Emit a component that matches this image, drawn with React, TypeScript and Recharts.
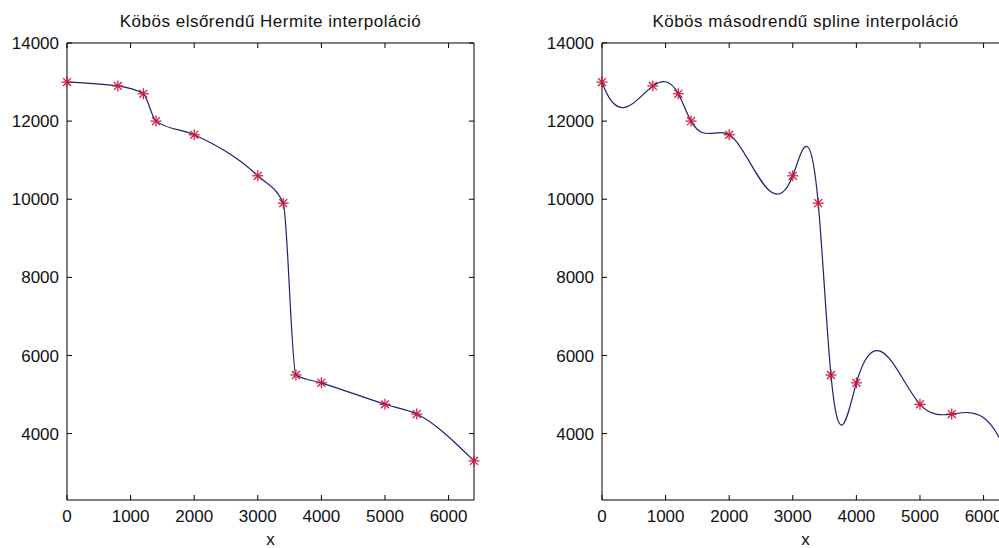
import { LineChart, Line, XAxis, YAxis } from 'recharts';

// measured samples (x position, value)
const xValues = [0, 800, 1200, 1400, 2000, 3000, 3400, 3600, 4000, 5000, 5500, 6400];
const yValues = [13000, 12900, 12700, 12000, 11650, 10600, 9900, 5500, 5300, 4750, 4500, 3300];

const xTicks = [0, 1000, 2000, 3000, 4000, 5000, 6000];
const yTicks = [4000, 6000, 8000, 10000, 12000, 14000];
const xDomain = [0, 6400];
const yDomain = [2300, 14000];

const titles = ['Köbös elsőrendű Hermite interpoláció', 'Köbös másodrendű spline interpoláció'];
const xLabel = 'x';

const points = xValues.map((x, i) => ({ x, y: yValues[i] }));

const FONT = '"Liberation Sans", Arial, sans-serif';
const FS = 17;
const TICK = 5;
const LINE_COLOR = '#1c2274';
const MARK_COLOR = '#c8143c';

// slopes of a not-a-knot cubic spline (same end conditions as MATLAB's spline)
function splineSlopes(x: number[], y: number[]) {
  const n = x.length;
  const h: number[] = [];
  const d: number[] = [];
  for (let k = 0; k < n - 1; k++) {
    h[k] = x[k + 1] - x[k];
    d[k] = (y[k + 1] - y[k]) / h[k];
  }
  const a = new Array(n).fill(0);
  const b = new Array(n).fill(0);
  const c = new Array(n).fill(0);
  const r = new Array(n).fill(0);
  b[0] = h[1];
  c[0] = h[0] + h[1];
  r[0] = ((h[0] + 2 * c[0]) * h[1] * d[0] + h[0] * h[0] * d[1]) / c[0];
  for (let i = 1; i < n - 1; i++) {
    a[i] = h[i];
    b[i] = 2 * (h[i - 1] + h[i]);
    c[i] = h[i - 1];
    r[i] = 3 * (h[i] * d[i - 1] + h[i - 1] * d[i]);
  }
  a[n - 1] = h[n - 3] + h[n - 2];
  b[n - 1] = h[n - 3];
  r[n - 1] = (h[n - 2] * h[n - 2] * d[n - 3] + (2 * a[n - 1] + h[n - 2]) * h[n - 3] * d[n - 2]) / a[n - 1];
  for (let i = 1; i < n; i++) {
    const m = a[i] / b[i - 1];
    b[i] -= m * c[i - 1];
    r[i] -= m * r[i - 1];
  }
  const s = new Array(n).fill(0);
  s[n - 1] = r[n - 1] / b[n - 1];
  for (let i = n - 2; i >= 0; i--) s[i] = (r[i] - c[i] * s[i + 1]) / b[i];
  return s;
}

// d3-style curve factory: cubic spline y(x) through the pixel points
function splineCurve(context: any) {
  let xs: number[] = [];
  let ys: number[] = [];
  return {
    areaStart() {},
    areaEnd() {},
    lineStart() {
      xs = [];
      ys = [];
    },
    point(px: number, py: number) {
      xs.push(+px);
      ys.push(+py);
    },
    lineEnd() {
      const n = xs.length;
      if (!n) return;
      context.moveTo(xs[0], ys[0]);
      if (n < 4) {
        for (let i = 1; i < n; i++) context.lineTo(xs[i], ys[i]);
        return;
      }
      const s = splineSlopes(xs, ys);
      for (let k = 0; k < n - 1; k++) {
        const h = (xs[k + 1] - xs[k]) / 3;
        context.bezierCurveTo(xs[k] + h, ys[k] + s[k] * h, xs[k + 1] - h, ys[k + 1] - s[k + 1] * h, xs[k + 1], ys[k + 1]);
      }
    },
  };
}

const LeftTick = ({ x, y, payload }: any) => (
  <g>
    <line x1={x} x2={x + TICK} y1={y} y2={y} stroke="#000" />
    <text x={x - 8} y={y} dy="0.36em" textAnchor="end" fontSize={FS} fontFamily={FONT} fill="#111">
      {payload.value}
    </text>
  </g>
);

const BottomTick = ({ x, y, payload }: any) => (
  <g>
    <line x1={x} x2={x} y1={y} y2={y - TICK} stroke="#000" />
    <text x={x} y={y + 22} textAnchor="middle" fontSize={FS} fontFamily={FONT} fill="#111">
      {payload.value}
    </text>
  </g>
);

const TopTick = ({ x, y }: any) => <line x1={x} x2={x} y1={y} y2={y + TICK} stroke="#000" />;
const RightTick = ({ x, y }: any) => <line x1={x} x2={x - TICK} y1={y} y2={y} stroke="#000" />;

const Asterisk = ({ cx, cy }: { cx: number; cy: number }) => {
  const r = 5.5;
  const q = r * 0.72;
  return (
    <g stroke={MARK_COLOR} strokeWidth={1.2}>
      <line x1={cx - r} x2={cx + r} y1={cy} y2={cy} />
      <line x1={cx} x2={cx} y1={cy - r} y2={cy + r} />
      <line x1={cx - q} x2={cx + q} y1={cy - q} y2={cy + q} />
      <line x1={cx - q} x2={cx + q} y1={cy + q} y2={cy - q} />
    </g>
  );
};

function Panel({ left, title, curve }: { left: number; title: string; curve: any }) {
  return (
    <div style={{ position: 'absolute', left, top: 0, width: 500, height: 548 }}>
      <svg width={500} height={40} style={{ position: 'absolute', left: 0, top: 0 }}>
        <text
          x={270.5}
          y={27}
          textAnchor="middle"
          fontSize={FS}
          letterSpacing={0.5}
          fontFamily={FONT}
          fill="#111"
        >
          {title}
        </text>
      </svg>
      <LineChart width={500} height={548} data={points} margin={{ top: 42, right: 25, bottom: 2, left: 7 }}>
        <XAxis
          dataKey="x"
          type="number"
          domain={xDomain}
          ticks={xTicks}
          height={46}
          tickSize={0}
          tickMargin={0}
          tickLine={false}
          tick={<BottomTick />}
          axisLine={{ stroke: '#000' }}
          label={{ value: xLabel, position: 'insideBottom', offset: 1, fill: '#111', fontSize: FS, fontFamily: FONT }}
        />
        <XAxis
          xAxisId="top"
          orientation="top"
          dataKey="x"
          type="number"
          domain={xDomain}
          ticks={xTicks}
          height={1}
          tickSize={0}
          tickMargin={0}
          tickLine={false}
          tick={<TopTick />}
          axisLine={{ stroke: '#000' }}
        />
        <YAxis
          type="number"
          domain={yDomain}
          ticks={yTicks}
          width={60}
          tickSize={0}
          tickMargin={0}
          tickLine={false}
          tick={<LeftTick />}
          axisLine={{ stroke: '#000' }}
          allowDataOverflow
        />
        <YAxis
          yAxisId="right"
          orientation="right"
          type="number"
          domain={yDomain}
          ticks={yTicks}
          width={1}
          tickSize={0}
          tickMargin={0}
          tickLine={false}
          tick={<RightTick />}
          axisLine={{ stroke: '#000' }}
        />
        {/* sample markers sit on the top/right axis pair (same domains) */}
        <Line
          dataKey="y"
          xAxisId="top"
          yAxisId="right"
          stroke="none"
          isAnimationActive={false}
          dot={(p: any) => <Asterisk key={p.index} cx={p.cx} cy={p.cy} />}
          activeDot={false}
        />
        <Line
          dataKey="y"
          type={curve}
          stroke={LINE_COLOR}
          strokeWidth={1.2}
          dot={false}
          activeDot={false}
          isAnimationActive={false}
        />
      </LineChart>
    </div>
  );
}

export default function App() {
  return (
    <div
      style={{
        position: 'absolute',
        left: 0,
        top: 0,
        width: 999,
        height: 548,
        overflow: 'hidden',
        background: '#fff',
      }}
    >
      <Panel left={0} title={titles[0]} curve="monotone" />
      <Panel left={535} title={titles[1]} curve={splineCurve} />
    </div>
  );
}
